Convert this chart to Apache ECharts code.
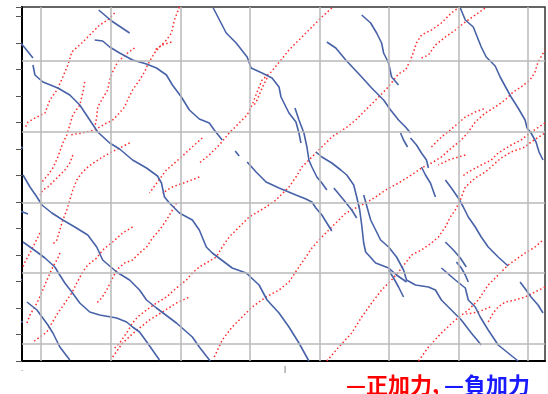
<!DOCTYPE html>
<html>
<head>
<meta charset="utf-8">
<script src="https://cdn.jsdelivr.net/npm/echarts@6/dist/echarts.min.js"></script>
<style>
  html, body { margin: 0; padding: 0; background: #fff; }
  #chart { width: 548px; height: 394px; }
</style>
</head>
<body>
<div id="chart"></div>
<script>
// grid line positions (data units)
const xGridLines = [19, 89, 159, 229, 299, 368, 438, 508];
const yGridLines = [17, 88, 158, 229, 300];
const xLabelValues = [0, 264];
const legendLabels = ['正加力', '負加力'];

// crack traces, each one a polyline of [x, y]
const positiveCracks = [
  [[93,348],[86,341],[78,336],[70,328],[60,318],[50,309],[46,296],[41,284],[35,271],[28,261],[23,248],[15,244],[6,239],[3,233]],
  [[63,279],[61,268],[58,256],[51,246],[48,236],[45,226],[41,218],[36,204],[31,193],[26,186],[20,179]],
  [[158,354],[153,341],[150,328],[145,321],[138,314],[133,308],[126,296],[123,289],[118,281],[111,271],[106,261],[103,254],[96,246],[91,241],[83,237],[73,231],[60,228],[48,226]],
  [[150,319],[141,316],[133,311]],
  [[113,313],[106,308],[96,299],[91,289],[88,281],[86,271],[80,261],[76,254],[75,244],[73,233]],
  [[108,218],[98,213],[88,208],[81,204],[73,199],[65,193],[60,188],[55,181],[51,171],[48,161],[45,151],[41,141],[38,131],[35,121],[30,116]],
  [[38,108],[36,103],[31,94],[25,81],[20,69],[15,58],[8,46],[5,38]],
  [[51,206],[48,198],[43,191],[36,184],[31,179],[26,174],[21,171],[18,166]],
  [[181,223],[173,216],[160,204],[145,191],[136,179],[128,168]],
  [[178,184],[165,179],[151,174],[141,168]],
  [[18,128],[13,118],[8,108],[3,99],[1,94]],
  [[111,134],[101,128],[91,119],[81,111],[75,103],[66,96],[61,89],[55,78],[50,68],[43,58],[36,48],[30,38],[25,29],[18,24],[11,19]],
  [[155,158],[151,151],[145,141],[138,131],[131,123],[125,114],[118,108],[111,101],[103,98],[95,91],[90,81],[85,71],[80,63],[75,58]],
  [[91,4],[101,18],[113,29],[128,41],[141,49],[155,58],[168,64]],
  [[311,353],[301,344],[288,331],[278,321],[268,311],[260,301],[250,289],[241,281],[236,269],[231,256],[226,246],[218,238],[208,228],[198,216],[188,206],[178,198]],
  [[246,283],[241,273],[236,261],[233,256]],
  [[93,13],[98,18],[105,28],[111,38],[116,44],[125,51],[135,58],[145,64],[155,73],[165,81],[171,88],[178,94],[185,98],[195,104],[201,114],[208,124],[218,134],[228,144],[245,154],[255,161],[268,174],[275,184],[281,194],[291,204],[301,214],[311,224],[325,233],[335,241],[345,251],[355,261],[365,271],[378,287],[385,291],[390,301],[393,309],[396,318],[401,326],[411,331],[421,338],[431,348],[438,353]],
  [[193,4],[201,21],[211,34],[221,44],[231,54],[245,64],[258,71],[268,79],[278,94],[285,104],[291,113],[298,121],[308,131],[318,141],[325,148],[335,153],[345,158],[355,164],[365,171],[378,178],[391,186],[401,193],[411,198],[421,204],[431,213],[441,221],[448,229],[455,239],[465,248],[475,254],[485,261],[493,269],[501,274],[510,281],[515,289],[518,299],[525,311]],
  [[306,0],[318,14],[331,28],[341,44],[351,58],[361,71],[371,81],[378,89],[385,98],[391,106],[401,111],[411,118],[418,124],[425,134],[430,144],[435,151],[440,161],[445,174],[455,183],[465,189],[473,196],[481,203],[491,209],[505,214],[511,219],[525,228]],
  [[398,0],[408,14],[421,28],[435,41],[448,51],[458,61],[468,76],[478,86],[488,96],[505,108],[515,114],[523,121]],
  [[525,238],[511,229],[501,221],[491,216],[478,208],[471,201],[461,196],[448,189],[441,184]],
  [[411,214],[421,224],[430,231],[438,238],[445,244],[455,249],[466,253]],
  [[445,206],[428,201],[418,196]],
  [[401,303],[408,306],[415,316],[425,324],[435,331],[445,339],[455,346],[465,353]],
  [[468,39],[473,48],[478,54],[485,59],[495,61],[505,64],[515,69],[525,74]],
  [[470,54],[458,49],[446,47]]
];

const negativeCracks = [
  [[77,351],[90,340],[108,328]],
  [[-6,323],[3,313],[11,303]],
  [[11,296],[13,286],[21,279],[36,273],[48,266],[58,256],[68,241],[76,229],[88,218],[98,212],[111,201],[125,193],[136,185],[140,178],[143,164],[148,158],[158,148],[171,141],[178,131],[185,114],[191,108],[211,93],[225,88],[238,76],[246,61],[258,48],[268,34],[278,18],[288,0]],
  [[73,321],[81,320],[88,314],[98,308],[111,301],[125,297],[135,293],[145,286],[151,276],[160,264],[168,251],[178,242],[188,238],[193,231],[201,221]],
  [[-6,216],[1,213]],
  [[1,186],[8,174],[15,164],[20,156],[30,148],[41,141],[53,134],[66,126],[75,114],[81,101],[95,89],[108,81],[118,71],[125,61],[135,53],[155,38],[171,24],[178,14],[185,5],[189,0]],
  [[-5,151],[6,147]],
  [[1,119],[15,109],[23,103],[33,94],[36,89],[43,78],[50,69],[58,58],[68,49],[78,46],[95,43],[105,39],[111,34],[118,29],[126,18],[138,1]],
  [[-5,84],[0,81]],
  [[5,59],[15,51],[26,36],[31,28],[38,14],[48,1]],
  [[-5,40],[1,39]],
  [[192,353],[205,328],[215,318],[226,304],[230,293],[241,288],[251,283],[258,274],[260,264],[268,248],[275,239],[278,228],[280,218]],
  [[274,253],[278,241],[283,228],[286,214],[288,201],[291,194],[296,184],[301,178],[306,171]],
  [[295,209],[301,204],[311,198],[320,191],[326,186],[333,176],[336,164],[339,151],[341,136],[343,118],[345,109],[355,98],[368,93],[376,86],[386,79]],
  [[313,173],[323,161],[331,151],[336,143]],
  [[343,166],[350,141],[360,121],[368,114],[376,104],[383,91],[386,81],[395,76],[408,74],[415,71],[421,61],[431,51],[441,41],[451,28],[461,16]],
  [[368,91],[373,83],[378,74],[383,64]],
  [[214,210],[218,205]],
  [[226,199],[235,189],[245,179],[258,173],[275,166],[285,162],[291,159],[295,153],[301,146],[306,138],[311,130]],
  [[306,319],[315,313],[325,301],[341,284],[351,273],[363,261],[370,251],[378,241],[385,234],[390,228]],
  [[380,228],[383,221],[387,214]],
  [[390,223],[396,216],[401,208],[406,201],[408,193]],
  [[401,194],[405,186],[410,178],[415,164]],
  [[341,346],[350,338],[356,328],[361,318],[363,308],[368,298],[371,284],[378,276]],
  [[425,181],[431,173],[438,163],[443,154],[448,144],[455,134],[461,124],[468,114],[478,104],[488,95]],
  [[425,119],[433,111],[440,103],[446,94]],
  [[436,99],[441,93],[445,86],[448,79]],
  [[421,93],[435,81],[445,73],[448,61],[455,54],[460,44],[468,31],[478,16],[488,8],[498,0]],
  [[500,79],[506,71],[511,64],[518,56],[523,48]],
  [[440,353],[445,341],[453,334],[457,324],[461,314],[466,304],[475,295],[480,284],[486,273],[491,264],[498,253],[505,241],[507,233],[511,228],[516,219],[519,209],[523,201]]
];

const chart = echarts.init(document.getElementById('chart'));

const crackSeries = (list, name, lineStyle) => list.map(pts => ({
  name: name,
  type: 'line',
  data: pts,
  showSymbol: false,
  symbol: 'none',
  clip: false,
  silent: true,
  z: 3,
  lineStyle: lineStyle
}));

const series = [
  {
    type: 'line',
    data: [],
    silent: true,
    z: 1,
    markLine: {
      silent: true,
      symbol: 'none',
      label: { show: false },
      animation: false,
      lineStyle: { color: '#b9b9b9', width: 1.5, type: 'solid' },
      data: xGridLines.map(v => ({ xAxis: v })).concat(yGridLines.map(v => ({ yAxis: v })))
    }
  }
].concat(
  crackSeries(positiveCracks, legendLabels[0], { color: '#ff2b2b', width: 1.5, type: [1.5, 2.5] }),
  crackSeries(negativeCracks, legendLabels[1], { color: '#4862a8', width: 1.6, type: 'solid' })
);

const option = {
  animation: false,
  backgroundColor: '#fff',
  title: {
    left: 341,
    top: 369,
    text: '{p|—' + legendLabels[0] + ',} {n|—' + legendLabels[1] + '}',
    textStyle: {
      fontFamily: '"Noto Sans CJK JP", sans-serif',
      fontSize: 22,
      rich: {
        p: { color: '#ff0000', fontSize: 22, fontFamily: '"Noto Sans CJK JP", sans-serif' },
        n: { color: '#1a1aff', fontSize: 22, fontFamily: '"Noto Sans CJK JP", sans-serif' }
      }
    }
  },
  grid: {
    left: 22,
    top: 7,
    right: 1,
    bottom: 33,
    show: true,
    borderColor: '#333',
    borderWidth: 1.5
  },
  xAxis: {
    type: 'value',
    min: 0,
    max: 525,
    interval: 264,
    splitLine: { show: false },
    axisLine: { lineStyle: { color: '#000', width: 2 } },
    axisTick: { show: false },
    axisLabel: {
      margin: 4,
      fontSize: 8,
      color: '#444',
      formatter: v => (v === xLabelValues[0] ? '.' : (v === xLabelValues[1] ? '|' : ''))
    }
  },
  yAxis: {
    type: 'value',
    min: 0,
    max: 354,
    interval: 26.5,
    splitLine: { show: false },
    axisLine: { lineStyle: { color: '#000', width: 2 } },
    axisTick: { show: true, length: 6, lineStyle: { color: '#555', width: 1 } },
    axisLabel: { show: false }
  },
  series: series
};

chart.setOption(option);
</script>
</body>
</html>
